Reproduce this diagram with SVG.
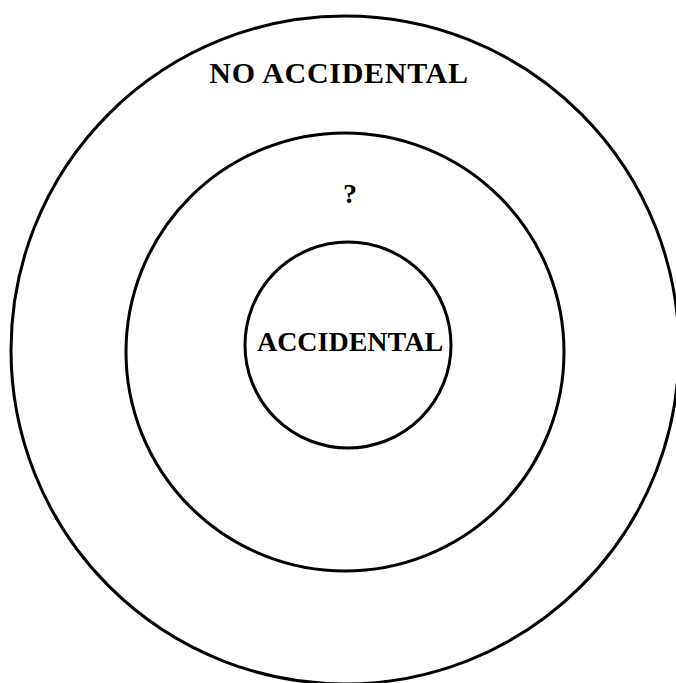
<svg xmlns="http://www.w3.org/2000/svg" width="676" height="683" viewBox="0 0 676 683">
<style>
.ring{fill:none;stroke:#000;stroke-width:3}
.lbl{font-family:"Liberation Serif","Times New Roman",serif;font-weight:bold;font-size:28px;fill:#000;text-anchor:middle}
.big{font-size:30px;letter-spacing:0.7px}
</style>
<rect width="676" height="683" fill="#fff"/>
<g id="outer">
<circle class="ring" cx="345" cy="350" r="334"/>
<text class="lbl big" x="339" y="83">NO ACCIDENTAL</text>
</g>
<g id="middle">
<circle class="ring" cx="345" cy="352" r="219"/>
<text class="lbl" x="350" y="203">?</text>
</g>
<g id="inner">
<circle class="ring" cx="348" cy="345" r="103"/>
<text class="lbl" x="350" y="351">ACCIDENTAL</text>
</g>
</svg>
